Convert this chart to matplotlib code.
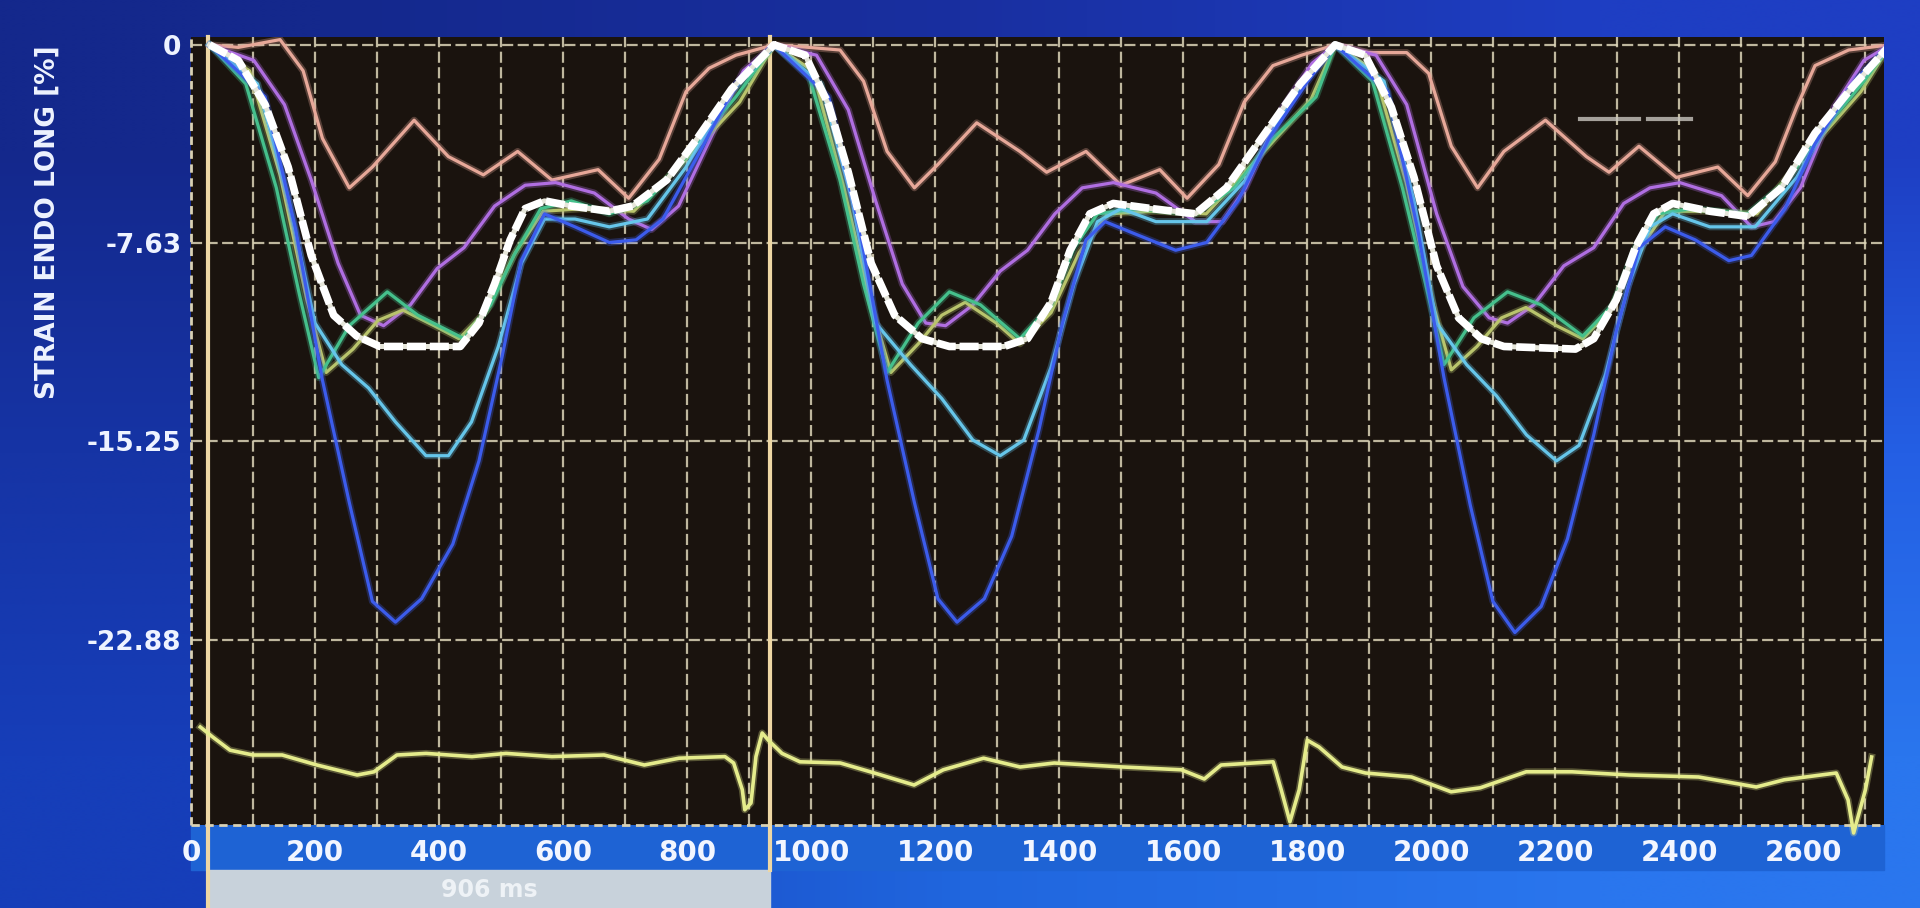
import matplotlib
matplotlib.use("Agg")
import matplotlib.pyplot as plt
import matplotlib.patheffects as pe
import matplotlib.transforms as mtransforms
from matplotlib.patches import Rectangle
import numpy as np

# ---- time frame (ms) ----
CYCLE_START = [30, 940, 1845]
CYCLE_END = [940, 1845, 2740]
R_WAVE_T = [28, 934]          # cursor lines around the measured cycle
CYCLE_LABEL = "906 ms"

Y_TICKS = [0, -7.63, -15.25, -22.88]
Y_TICK_LABELS = ["0", "-7.63", "-15.25", "-22.88"]
X_TICKS = list(range(0, 2601, 200))
X_GRID = list(range(100, 2701, 100))

# ---- strain curves: per cycle, local time (ms) and strain (%) ----
WHITE_T = [[0, 46, 89, 126, 163, 199, 236, 273, 334, 402, 432, 457, 482, 506, 537, 580, 641, 678, 733, 782, 837, 905],
           [0, 49, 86, 117, 153, 190, 233, 276, 362, 399, 436, 466, 497, 534, 595, 663, 712, 767, 828, 883],
           [0, 49, 92, 129, 166, 202, 239, 276, 393, 423, 460, 491, 521, 552, 613, 675, 730, 785, 847, 908]]
WHITE_S = [[0, -0.6, -2.3, -4.7, -8.1, -10.4, -11.2, -11.6, -11.6, -11.6, -10.7, -9.2, -7.5, -6.3, -6.0, -6.2, -6.4, -6.2, -5.2, -3.6, -1.7, 0],
           [0, -0.4, -2.3, -4.9, -8.4, -10.4, -11.3, -11.6, -11.6, -11.3, -9.9, -7.9, -6.5, -6.1, -6.3, -6.5, -5.5, -3.6, -1.5, 0],
           [0, -0.4, -2.4, -5.1, -8.5, -10.5, -11.3, -11.6, -11.7, -11.3, -9.8, -7.8, -6.5, -6.1, -6.4, -6.6, -5.5, -3.4, -1.6, 0]]

PINK_T = [[0, 46, 113, 150, 181, 224, 261, 328, 383, 439, 494, 549, 623, 672, 721, 764, 801, 844, 905],
          [0, 55, 104, 141, 178, 221, 258, 319, 387, 429, 491, 546, 607, 650, 700, 740, 785, 830, 883],
          [0, 55, 117, 153, 190, 233, 276, 344, 411, 448, 497, 558, 626, 675, 720, 755, 785, 840, 908]]
PINK_S = [[0, -0.1, 0.2, -1.0, -3.6, -5.5, -4.7, -2.9, -4.3, -5.0, -4.1, -5.2, -4.8, -5.9, -4.4, -1.8, -0.9, -0.4, 0],
          [0, -0.1, -0.2, -1.4, -4.1, -5.5, -4.6, -3.0, -4.1, -4.9, -4.1, -5.4, -4.8, -5.9, -4.6, -2.2, -0.8, -0.4, 0],
          [0, -0.3, -0.3, -1.1, -3.9, -5.5, -4.1, -2.9, -4.3, -4.9, -3.9, -5.1, -4.7, -5.8, -4.5, -2.4, -0.8, -0.2, 0]]

PURPLE_T = [[0, 71, 120, 163, 206, 242, 279, 322, 365, 408, 457, 506, 555, 617, 672, 709, 752, 813, 856, 905],
            [0, 67, 117, 160, 202, 239, 270, 313, 356, 399, 442, 485, 534, 601, 663, 706, 742, 798, 847, 883],
            [0, 67, 117, 166, 209, 252, 282, 325, 374, 423, 472, 515, 564, 632, 681, 718, 761, 816, 865, 908]]
PURPLE_S = [[0, -0.6, -2.3, -5.2, -8.4, -10.4, -10.8, -10.0, -8.6, -7.8, -6.2, -5.4, -5.3, -5.7, -6.7, -7.1, -6.2, -3.1, -1.0, 0],
            [0, -0.4, -2.5, -6.0, -9.2, -10.7, -10.8, -10.0, -8.7, -7.9, -6.5, -5.5, -5.3, -5.7, -6.8, -6.8, -5.5, -2.5, -0.7, 0],
            [0, -0.4, -2.3, -6.5, -9.3, -10.5, -10.7, -10.0, -8.5, -7.8, -6.1, -5.5, -5.3, -5.8, -7.0, -6.8, -5.5, -2.4, -0.6, 0]]

BLUE_T = [[0, 89, 138, 181, 224, 261, 298, 340, 390, 432, 469, 500, 537, 586, 641, 684, 727, 782, 844, 905],
          [0, 86, 135, 178, 221, 258, 288, 331, 374, 417, 454, 491, 521, 571, 632, 681, 730, 779, 840, 883],
          [0, 86, 135, 178, 221, 258, 294, 337, 380, 423, 460, 497, 540, 589, 644, 681, 736, 785, 853, 908]]
BLUE_S = [[0, -2.0, -7.1, -12.9, -17.6, -21.4, -22.2, -21.3, -19.2, -16.0, -12.0, -8.3, -6.5, -7.0, -7.6, -7.5, -6.7, -4.3, -1.5, 0],
          [0, -2.0, -7.1, -12.9, -17.6, -21.3, -22.2, -21.3, -18.9, -14.8, -10.7, -7.5, -6.8, -7.3, -7.9, -7.6, -6.0, -3.6, -1.4, 0],
          [0, -1.8, -7.1, -12.8, -17.7, -21.4, -22.6, -21.6, -19.0, -15.0, -11.0, -7.8, -7.0, -7.5, -8.3, -8.1, -6.3, -3.8, -1.3, 0]]

CYAN_T = [[0, 77, 126, 169, 212, 255, 298, 347, 383, 420, 463, 500, 537, 586, 641, 702, 764, 837, 905],
          [0, 74, 123, 160, 215, 264, 313, 356, 393, 436, 472, 509, 546, 601, 681, 742, 816, 883],
          [0, 80, 129, 166, 215, 264, 313, 362, 399, 442, 479, 515, 552, 613, 687, 755, 828, 908]]
CYAN_S = [[0, -1.5, -5.9, -10.7, -12.3, -13.2, -14.5, -15.8, -15.8, -14.5, -11.6, -8.4, -6.7, -6.7, -7.0, -6.7, -4.7, -1.8, 0],
          [0, -1.5, -6.0, -10.7, -12.3, -13.6, -15.2, -15.8, -15.2, -12.4, -9.2, -6.8, -6.3, -6.8, -6.8, -5.2, -2.0, 0],
          [0, -1.4, -6.0, -10.7, -12.3, -13.5, -15.0, -16.0, -15.4, -12.7, -9.3, -7.0, -6.5, -7.0, -7.0, -5.1, -2.1, 0]]

GREEN_T = [[0, 58, 107, 144, 175, 224, 285, 334, 408, 451, 488, 531, 580, 641, 702, 764, 844, 905],
           [0, 55, 104, 141, 178, 227, 276, 325, 387, 436, 472, 509, 571, 663, 724, 785, 853, 883],
           [0, 61, 110, 147, 178, 227, 282, 337, 405, 454, 491, 528, 583, 675, 736, 798, 865, 908]]
GREEN_S = [[0, -1.5, -5.5, -9.6, -12.8, -10.8, -9.5, -10.4, -11.3, -10.0, -8.1, -6.3, -6.0, -6.5, -6.0, -4.3, -2.0, 0],
           [0, -1.2, -5.2, -9.2, -12.6, -10.7, -9.5, -10.0, -11.3, -10.0, -7.8, -6.5, -6.3, -6.5, -5.5, -3.6, -2.0, 0],
           [0, -1.4, -5.5, -9.1, -12.3, -10.5, -9.5, -10.0, -11.2, -10.0, -7.8, -6.5, -6.3, -6.5, -5.3, -3.3, -1.4, 0]]

OLIVE_T = [[0, 64, 113, 156, 187, 230, 270, 310, 360, 400, 445, 490, 535, 600, 680, 760, 850, 905],
           [0, 61, 110, 153, 184, 227, 264, 301, 350, 387, 436, 480, 525, 600, 680, 760, 845, 883],
           [0, 64, 116, 158, 190, 232, 272, 312, 362, 405, 450, 495, 540, 610, 690, 770, 860, 908]]
OLIVE_S = [[0, -1.0, -5.0, -9.8, -12.6, -11.7, -10.6, -10.2, -10.8, -11.3, -10.2, -8.0, -6.4, -6.3, -6.4, -4.5, -2.2, 0],
           [0, -1.0, -5.5, -10.0, -12.6, -11.5, -10.4, -9.9, -10.7, -11.5, -10.3, -8.0, -6.5, -6.4, -6.5, -4.4, -2.1, 0],
           [0, -1.0, -5.3, -9.8, -12.5, -11.6, -10.5, -10.1, -10.8, -11.3, -10.2, -8.0, -6.4, -6.4, -6.5, -4.2, -1.8, 0]]

# ---- ECG trace (ms, arbitrary mV) ----
ECG_T = [15, 35, 63, 100, 147, 203, 268, 295, 332, 379, 453, 508, 582, 666, 731, 787, 861, 875, 889, 893,
         903, 911, 921, 931, 953, 982, 1047, 1102, 1166, 1213, 1278, 1337, 1392, 1503, 1597, 1634, 1661, 1745,
         1758, 1772, 1787, 1800, 1819, 1856, 1894, 1968, 2032, 2079, 2153, 2227, 2319, 2431, 2524, 2569, 2653,
         2672, 2681, 2700, 2710]
ECG_V = [0.7, 0.45, 0.12, 0.0, 0.0, -0.25, -0.5, -0.42, 0.0, 0.04, -0.04, 0.04, -0.04, 0.0, -0.25, -0.08,
         -0.04, -0.2, -0.87, -1.37, -1.2, -0.04, 0.55, 0.37, 0.04, -0.17, -0.2, -0.45, -0.75, -0.37, -0.08,
         -0.3, -0.2, -0.3, -0.37, -0.6, -0.25, -0.17, -0.87, -1.67, -0.87, 0.37, 0.2, -0.3, -0.45, -0.55,
         -0.92, -0.82, -0.42, -0.42, -0.5, -0.55, -0.8, -0.62, -0.45, -1.12, -1.95, -0.87, -0.05]

# small marker dashes near the top of the third cycle
MARK_T = [(2240, 2335), (2350, 2418)]
MARK_S = -2.85

CURVES = [
    ("#e7a899", PINK_T, PINK_S),
    ("#b06ee2", PURPLE_T, PURPLE_S),
    ("#b9c46c", OLIVE_T, OLIVE_S),
    ("#45c08c", GREEN_T, GREEN_S),
    ("#66c6ea", CYAN_T, CYAN_S),
    ("#3c5cec", BLUE_T, BLUE_S),
]


def to_global(taus, vals):
    """Stitch the three cycles into one time axis."""
    t_all, s_all = [], []
    for k in range(3):
        tau = np.array(taus[k], dtype=float)
        scale = (CYCLE_END[k] - CYCLE_START[k]) / tau[-1]
        t_all.extend(CYCLE_START[k] + tau * scale)
        s_all.extend(vals[k])
    return np.array(t_all), np.array(s_all)


fig = plt.figure(figsize=(19.2, 9.08), dpi=100)

# screen background (blue, brighter to the right / bottom)
bg = fig.add_axes([0, 0, 1, 1], zorder=0)
bg_rgb = np.array([
    [[20, 40, 140], [25, 47, 160], [30, 62, 195]],
    [[22, 52, 165], [26, 58, 175], [36, 95, 228]],
    [[22, 62, 185], [32, 102, 222], [42, 118, 238]],
]) / 255.0
bg.imshow(bg_rgb, extent=[0, 1, 0, 1], aspect="auto", interpolation="bilinear")
bg.axis("off")

# label band under the plot
fig.patches.append(Rectangle((191 / 1920, 38 / 908), 1693 / 1920, 45 / 908,
                             transform=fig.transFigure, color="#1e63d4", zorder=1))

ax = fig.add_axes([191 / 1920, 83 / 908, 1693 / 1920, 788 / 908], zorder=2)
ax.set_facecolor("#1a130e")
ax.set_xlim(0, 2730)
ax.set_ylim(-30.0, 0.3)

# grid
grid_kw = dict(color="#ddd5b8", lw=1.6, ls=(0, (5, 2)), alpha=0.85, zorder=1)
for g in X_GRID:
    ax.axvline(g, **grid_kw)
for y in Y_TICKS:
    ax.axhline(y, **grid_kw)
ax.axhline(-30.0, color="#d9d1b4", lw=2, ls=(0, (3, 2)), zorder=1, clip_on=False)
ax.axvline(0, color="#d9d1b4", lw=2, ls=(0, (3, 2)), zorder=1, clip_on=False)
for sp in ax.spines.values():
    sp.set_visible(False)

# cycle box and cursor lines
blend = mtransforms.blended_transform_factory(ax.transData, ax.transAxes)
ax.add_patch(Rectangle((R_WAVE_T[0], -0.11), R_WAVE_T[1] - R_WAVE_T[0], 0.053,
                       transform=blend, color="#c8d2db", clip_on=False, zorder=3))
ax.text((R_WAVE_T[0] + R_WAVE_T[1]) / 2, -0.083, CYCLE_LABEL, transform=blend,
        ha="center", va="center", color="#eef2f6", fontsize=17, fontweight="bold", zorder=4)
ax.axvline(R_WAVE_T[0], ymin=-0.11, ymax=1.0, color="#eed7a4", lw=3, clip_on=False, zorder=5)
ax.axvline(R_WAVE_T[1], ymin=-0.057, ymax=1.0, color="#eed7a4", lw=3, clip_on=False, zorder=5)

# segment curves
for color, taus, vals in CURVES:
    t, s = to_global(taus, vals)
    ax.plot(t, s, color=color, lw=2.3, solid_joinstyle="round", zorder=6,
            path_effects=[pe.Stroke(linewidth=5, foreground=color, alpha=0.3), pe.Normal()])

# average curve (white, beaded)
t, s = to_global(WHITE_T, WHITE_S)
ax.plot(t, s, color="#e6e6da", lw=3.6, solid_joinstyle="round", zorder=7)
ax.plot(t, s, color="#ffffff", lw=5.5, ls=(0, (2.5, 0.5)), zorder=8)

for a, b in MARK_T:
    ax.plot([a, b], [MARK_S, MARK_S], color="#c9c6c0", lw=3, alpha=0.8, zorder=4)

# ticks
ax.set_yticks(Y_TICKS)
ax.set_yticklabels(Y_TICK_LABELS)
ax.set_xticks(X_TICKS)
ax.set_xticklabels([str(v) for v in X_TICKS])
ax.tick_params(axis="y", length=0, pad=7, labelsize=19, labelcolor="#eef3ff")
ax.tick_params(axis="x", length=0, pad=10, labelsize=20, labelcolor="#f2f6ff")
for lab in ax.get_xticklabels() + ax.get_yticklabels():
    lab.set_fontweight("bold")

# ECG on its own scale
ax_ecg = ax.twinx()
ax_ecg.set_ylim(-1.75, 17.95)
ax_ecg.plot(ECG_T, ECG_V, color="#e5ec8c", lw=2.6, clip_on=False,
            path_effects=[pe.Stroke(linewidth=5, foreground="#e5ec8c", alpha=0.3), pe.Normal()])
ax_ecg.set_yticks([])
ax_ecg.patch.set_visible(False)
for sp in ax_ecg.spines.values():
    sp.set_visible(False)

fig.text(48 / 1920, 1 - 222 / 908, "STRAIN ENDO LONG [%]", rotation=90, ha="center", va="center",
         color="#eef3ff", fontsize=19, fontweight="bold")

fig.savefig("out.png", dpi=100)
